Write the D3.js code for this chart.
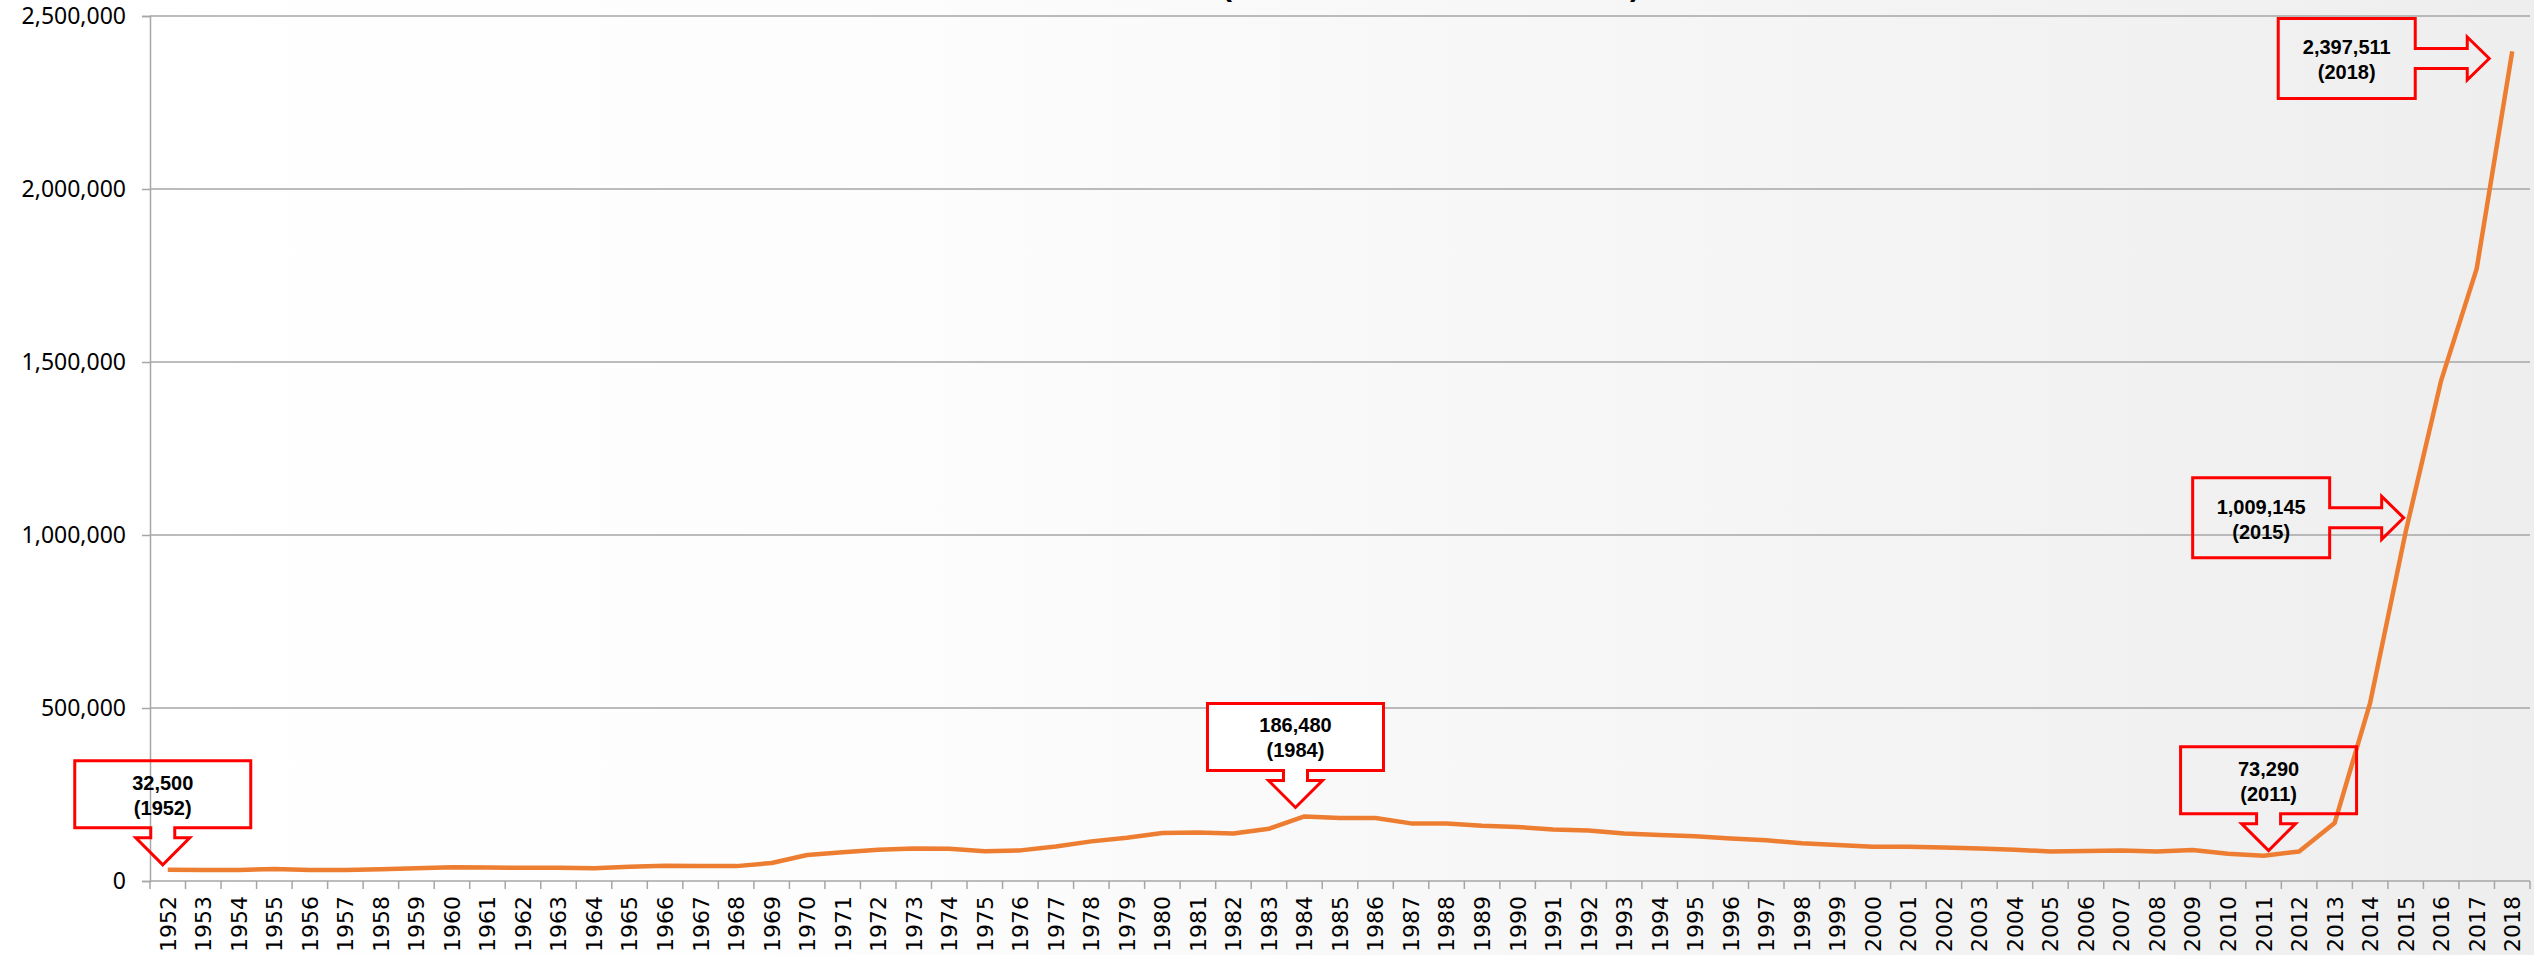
<!DOCTYPE html>
<html>
<head>
<meta charset="utf-8">
<script src="https://cdn.jsdelivr.net/npm/d3@7"></script>
<style>
  html, body { margin: 0; padding: 0; background: #fff; }
  svg { display: block; }
</style>
</head>
<body>
<div id="chart"></div>
<script>
// years on the category axis
const years = d3.range(1952, 2019).map(String);

// values, one per year
const values = [
  32500, 31500, 32000, 35000, 32000, 32000, 34000, 37000, 40000, 39000,
  38000, 38000, 37000, 41000, 44000, 43000, 43000, 52000, 75000, 83000,
  90000, 94000, 93500, 86000, 88500, 100000, 114500, 125000, 138500, 140500,
  137500, 151000, 186480, 182000, 182000, 166500, 166500, 160000, 156000, 149000,
  146000, 137000, 133000, 129000, 123000, 117500, 109000, 104000, 99000, 99000,
  97000, 94000, 90500, 85000, 86500, 88500, 85000, 89500, 79000, 73290,
  85500, 167500, 515000, 1009145, 1447000, 1770000, 2397511
];

const yTicks = [0, 500000, 1000000, 1500000, 2000000, 2500000];

// years that get a callout
const calloutYears = ["1952", "1984", "2011", "2015", "2018"];

// callout shape and nudge of the arrow tip from its point (layout only)
const calloutLayout = {
  "1952": { kind: "down", dx: -5, dy: -5, fill: "none" },
  "1984": { kind: "down", dx: -9, dy: -9, fill: "#ffffff" },
  "2011": { kind: "down", dx: 5, dy: -5, fill: "none" },
  "2015": { kind: "right", dx: -2, dy: -14, fill: "none" },
  "2018": { kind: "right", dx: -23, dy: 7, fill: "none" }
};

const W = 2534, H = 955;
const margin = { top: 16, right: 4, bottom: 74, left: 150 };

const svg = d3.select("#chart").append("svg")
  .attr("width", W)
  .attr("height", H);

// soft grey wash, white on the left
const grad = svg.append("defs").append("linearGradient")
  .attr("id", "bg")
  .attr("x1", "0%").attr("x2", "100%").attr("y1", "0%").attr("y2", "0%");
grad.append("stop").attr("offset", "0%").attr("stop-color", "#ffffff");
grad.append("stop").attr("offset", "33%").attr("stop-color", "#fdfdfd");
grad.append("stop").attr("offset", "100%").attr("stop-color", "#eeeeee");

svg.append("rect").attr("width", W).attr("height", H).attr("fill", "url(#bg)");

const x = d3.scaleBand()
  .domain(years)
  .range([margin.left, W - margin.right])
  .padding(0);

const y = d3.scaleLinear()
  .domain([0, 2500000])
  .range([H - margin.bottom, margin.top]);

const cx = d => x(d) + x.bandwidth() / 2;
const gridColor = "#a6a6a6";

// horizontal gridlines
svg.append("g")
  .selectAll("line")
  .data(yTicks.filter(d => d > 0))
  .join("line")
  .attr("x1", margin.left)
  .attr("x2", W - margin.right)
  .attr("y1", d => y(d))
  .attr("y2", d => y(d))
  .attr("stroke", gridColor)
  .attr("stroke-width", 1.5);

// y axis
const yAxis = svg.append("g")
  .attr("transform", `translate(${margin.left},0)`)
  .call(d3.axisLeft(y).tickValues(yTicks).tickSize(8).tickPadding(16).tickFormat(d3.format(",")));
yAxis.select(".domain").attr("stroke", gridColor).attr("stroke-width", 1.5);
yAxis.selectAll(".tick line").attr("stroke", gridColor).attr("stroke-width", 1.5);
yAxis.selectAll(".tick text")
  .attr("fill", "#000")
  .style("font-family", "'Noto Sans', sans-serif")
  .style("font-size", "23px");

// x axis: line, ticks between categories, rotated labels
const xAxis = svg.append("g")
  .attr("transform", `translate(0,${y(0)})`);
xAxis.append("line")
  .attr("x1", margin.left)
  .attr("x2", W - margin.right)
  .attr("stroke", gridColor)
  .attr("stroke-width", 1.5);
xAxis.selectAll("line.tk")
  .data(years.concat(["end"]))
  .join("line")
  .attr("class", "tk")
  .attr("x1", d => d === "end" ? W - margin.right : x(d))
  .attr("x2", d => d === "end" ? W - margin.right : x(d))
  .attr("y1", 0)
  .attr("y2", 8)
  .attr("stroke", gridColor)
  .attr("stroke-width", 1.5);
xAxis.selectAll("text")
  .data(years)
  .join("text")
  .attr("transform", d => `translate(${cx(d)},15) rotate(-90)`)
  .attr("text-anchor", "end")
  .attr("dy", "0.36em")
  .style("font-family", "'DejaVu Sans', sans-serif")
  .style("font-size", "22px")
  .attr("fill", "#000")
  .text(d => d);

// the series line
const line = d3.line()
  .x((d, i) => cx(years[i]))
  .y(d => y(d));

svg.append("path")
  .datum(values)
  .attr("d", line)
  .attr("fill", "none")
  .attr("stroke", "#ED7D31")
  .attr("stroke-width", 4.5)
  .attr("stroke-linejoin", "round");

// callouts
const fmt = d3.format(",");

function downShape(tx, ty) {
  const l = tx - 88, r = tx + 88, t = ty - 104, b = ty - 37;
  return {
    d: `M${l},${t}H${r}V${b}H${tx + 12}V${ty - 27}H${tx + 27}L${tx},${ty}L${tx - 27},${ty - 27}H${tx - 12}V${b}H${l}Z`,
    mx: tx, l1: t + 22, l2: t + 47
  };
}

function rightShape(tx, ty) {
  const r = tx - 74, l = r - 137, t = ty - 40, b = ty + 40;
  return {
    d: `M${l},${t}H${r}V${ty - 10}H${tx - 22}V${ty - 21.5}L${tx},${ty}L${tx - 22},${ty + 21.5}V${ty + 10}H${r}V${b}H${l}Z`,
    mx: (l + r) / 2, l1: t + 29, l2: t + 54
  };
}

const calloutG = svg.append("g");
calloutYears.forEach(yr => {
  const lay = calloutLayout[yr];
  const v = values[years.indexOf(yr)];
  const tx = cx(yr) + lay.dx;
  const ty = y(v) + lay.dy;
  const s = lay.kind === "down" ? downShape(tx, ty) : rightShape(tx, ty);

  const g = calloutG.append("g");
  g.append("path")
    .attr("d", s.d)
    .attr("fill", lay.fill)
    .attr("stroke", "#ff0000")
    .attr("stroke-width", 3);

  [[fmt(v), s.l1], [`(${yr})`, s.l2]].forEach(([txt, ly]) => {
    g.append("text")
      .attr("x", s.mx)
      .attr("y", ly)
      .attr("dy", "0.35em")
      .attr("text-anchor", "middle")
      .style("font-family", "'Liberation Sans', Arial, sans-serif")
      .style("font-size", "20px")
      .style("font-weight", "bold")
      .attr("fill", "#000")
      .text(txt);
  });
});

// title sits above the frame, only its lowest strokes show
svg.append("text")
  .attr("y", -4)
  .style("font-family", "'Liberation Sans', Arial, sans-serif")
  .style("font-size", "30px")
  .style("font-weight", "bold")
  .attr("fill", "#000")
  .call(t => {
    t.append("tspan").attr("x", 1222).text("(");
    t.append("tspan").attr("x", 1630).text(")");
  });
</script>
</body>
</html>
